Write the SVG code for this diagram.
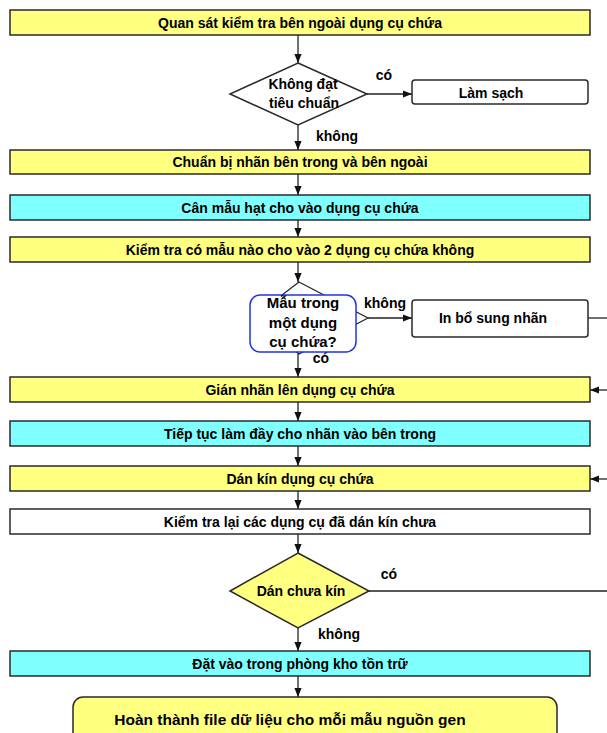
<svg xmlns="http://www.w3.org/2000/svg" width="607" height="733" viewBox="0 0 607 733">
<style>
text{font-family:"Liberation Sans",Arial,sans-serif;font-weight:bold;font-size:14px;fill:#000;text-anchor:middle}
.box{stroke:#2a2a2a;stroke-width:1.5}
.y{fill:#FFFF80}
.c{fill:#80FFFF}
.w{fill:#FFFFFF}
.con{stroke:#222;stroke-width:1.3;fill:none}
.arr{marker-end:url(#ah)}
</style>
<defs>
<marker id="ah" viewBox="0 0 10 10" refX="10" refY="5" markerWidth="9" markerHeight="9" markerUnits="userSpaceOnUse" orient="auto">
<path d="M0,1 L10,5 L0,9 z" fill="#111"/>
</marker>
</defs>
<rect width="607" height="733" fill="#fff"/>

<g id="connectors">
<line class="con arr" x1="298" y1="35" x2="298" y2="63"/>
<line class="con arr" x1="367" y1="94" x2="412" y2="94"/>
<line class="con arr" x1="298" y1="125" x2="298" y2="150"/>
<line class="con arr" x1="298" y1="174" x2="298" y2="195"/>
<line class="con arr" x1="298" y1="220" x2="298" y2="237"/>
<line class="con arr" x1="298" y1="262" x2="298" y2="282"/>
<line class="con arr" x1="368" y1="318" x2="412" y2="318"/>
<line class="con" x1="588" y1="318" x2="607" y2="318"/>
<line class="con arr" x1="298" y1="354" x2="298" y2="377"/>
<line class="con arr" x1="607" y1="390" x2="590" y2="390"/>
<line class="con arr" x1="298" y1="402" x2="298" y2="421"/>
<line class="con arr" x1="298" y1="446" x2="298" y2="466"/>
<line class="con arr" x1="607" y1="479" x2="590" y2="479"/>
<line class="con arr" x1="298" y1="491" x2="298" y2="509"/>
<line class="con arr" x1="298" y1="534" x2="298" y2="553"/>
<line class="con" x1="369" y1="591" x2="607" y2="591"/>
<line class="con arr" x1="298" y1="628" x2="298" y2="651"/>
<line class="con arr" x1="298" y1="676" x2="298" y2="697"/>
<text x="384" y="80">có</text>
<text x="337" y="141">không</text>
<text x="385" y="308">không</text>
<text x="321" y="363">có</text>
<text x="389" y="579">có</text>
<text x="339" y="639">không</text>
</g>

<g id="n1">
<rect class="box y" x="10" y="10" width="580" height="25"/>
<text x="300" y="27.5">Quan sát kiểm tra bên ngoài dụng cụ chứa</text>
</g>
<g id="d1">
<polygon class="box w" points="298,63 367,94 298,125 230,94"/>
<text x="303" y="89">Không đạt</text>
<text x="304" y="108">tiêu chuẩn</text>
</g>
<g id="n_lamsach">
<rect class="box w" x="412" y="80" width="176" height="24" rx="3"/>
<text x="491" y="98">Làm sạch</text>
</g>
<g id="n2">
<rect class="box y" x="10" y="150" width="580" height="24"/>
<text x="300" y="167">Chuẩn bị nhãn bên trong và bên ngoài</text>
</g>
<g id="n3">
<rect class="box c" x="10" y="195" width="580" height="25"/>
<text x="300" y="212.5">Cân mẫu hạt cho vào dụng cụ chứa</text>
</g>
<g id="n4">
<rect class="box y" x="10" y="237" width="580" height="25"/>
<text x="300" y="254.5">Kiểm tra có mẫu nào cho vào 2 dụng cụ chứa không</text>
</g>
<g id="d2">
<polygon points="299,282 368,318 299,354 252,318" fill="#fff" stroke="#222" stroke-width="1.2"/>
<rect x="250" y="295" width="106" height="57" rx="10" fill="#fff" stroke="#2233dd" stroke-width="1.5"/>
<text x="303" y="308" style="font-size:15px">Mẫu trong</text>
<text x="303" y="328" style="font-size:15px">một dụng</text>
<text x="303" y="347" style="font-size:15px">cụ chứa?</text>
</g>
<g id="n_inbosung">
<rect class="box w" x="412" y="300" width="176" height="37" rx="3"/>
<text x="493" y="323">In bổ sung nhãn</text>
</g>
<g id="n5">
<rect class="box y" x="10" y="377" width="580" height="25"/>
<text x="300" y="394.5">Gián nhãn lên dụng cụ chứa</text>
</g>
<g id="n6">
<rect class="box c" x="10" y="421" width="580" height="25"/>
<text x="300" y="438.5">Tiếp tục làm đầy cho nhãn vào bên trong</text>
</g>
<g id="n7">
<rect class="box y" x="10" y="466" width="580" height="25"/>
<text x="300" y="483.5">Dán kín dụng cụ chứa</text>
</g>
<g id="n8">
<rect class="box w" x="10" y="509" width="580" height="25"/>
<text x="300" y="526.5">Kiểm tra lại các dụng cụ đã dán kín chưa</text>
</g>
<g id="d3">
<polygon class="box y" points="298,553 369,591 298,628 230,591"/>
<text x="301" y="596">Dán chưa kín</text>
</g>
<g id="n9">
<rect class="box c" x="10" y="651" width="580" height="25"/>
<text x="300" y="668.5">Đặt vào trong phòng kho tồn trữ</text>
</g>
<g id="n10">
<rect class="box y" x="73" y="697" width="484" height="50" rx="10"/>
<text x="290" y="724.5" style="font-size:15.5px">Hoàn thành file dữ liệu cho mỗi mẫu nguồn gen</text>
</g>
</svg>
